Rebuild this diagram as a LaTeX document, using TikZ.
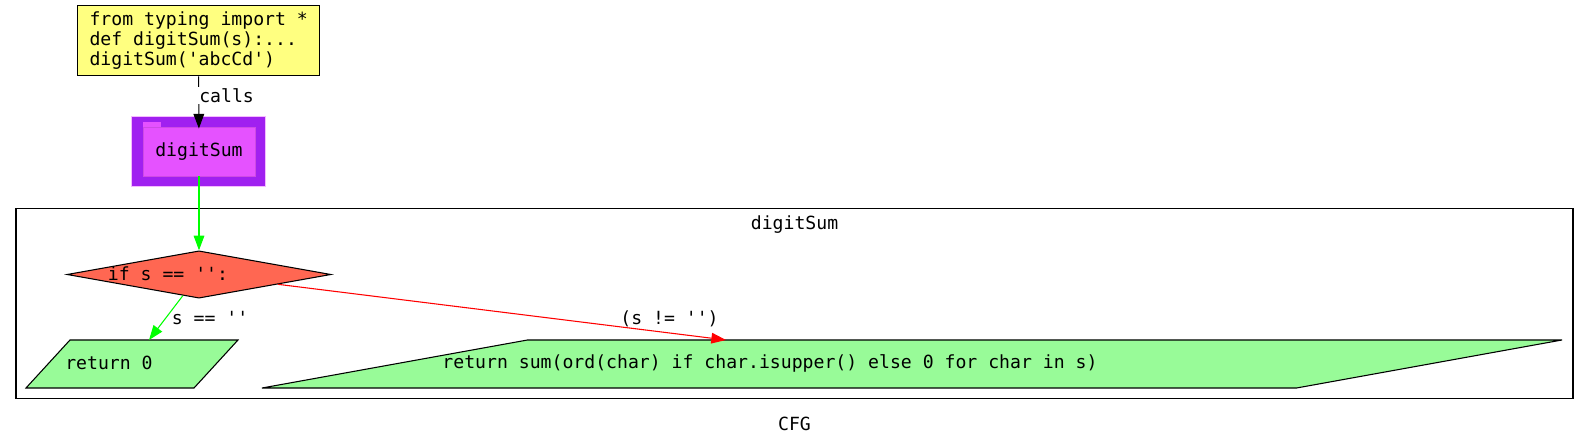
\documentclass[tikz,border=0pt]{standalone}
\usepackage{fontspec}
\setmonofont{DejaVu Sans Mono}
\usepackage{xcolor}
\usetikzlibrary{arrows.meta, positioning, shapes.geometric}
\definecolor{srcyellow}{HTML}{FFFF80}
\definecolor{fnpurple}{HTML}{A020F0}
\definecolor{fnpink}{HTML}{E552FF}
\definecolor{condred}{HTML}{FF6752}
\definecolor{retgreen}{HTML}{98FB98}
\definecolor{linegreen}{HTML}{00FF00}

\begin{document}
\begin{tikzpicture}[
        x=0.75pt, y=-0.75pt,
        font=\ttfamily\fontsize{13.6}{15}\selectfont,
        line width=0.8pt,
        src/.style={draw, fill=srcyellow, minimum width=182pt, minimum height=53pt, inner sep=0pt},
        fnback/.style={draw=fnpink!40, fill=fnpurple, minimum width=101pt, minimum height=53pt, inner sep=0pt},
        fnbox/.style={fill=fnpink, draw=fnpink!90!black, line width=0.4pt, minimum width=84pt, minimum height=37pt, inner sep=0pt},
        fntab/.style={fill=fnpink, minimum width=13pt, minimum height=5pt, inner sep=0pt},
        cluster/.style={draw, minimum width=1167.75pt, minimum height=142pt, inner sep=0pt},
        cond/.style={draw, fill=condred, diamond, aspect=5.62, minimum width=198pt, minimum height=35.5pt, inner sep=0pt},
        ret/.style={draw, fill=retgreen, trapezium, trapezium stretches body, inner sep=1pt},
        txt/.style={inner sep=0pt},
        arr/.style={-{Triangle[length=11pt, width=8pt]}},
        lbl/.style={inner sep=0pt}
      ]
      \useasboundingbox (0,0) rectangle (1589,445);
      \node[cluster] (clust) at (794.5,303.5) {};
      \node[txt] (clustname) at (794.5,225) {digitSum};
      \node[txt] (title) at (794.5,424) {CFG};

      \node[src] (source) at (198.5,40.5) {};
      \node[txt, align=left, anchor=west] (sourcetext) at (89,41) {from typing import *\\def digitSum(s):...\\digitSum('abcCd')};

      \node[fnback] (fnouter) at (198.5,151.5) {};
      \node[fntab] (fntop) at (152,125) {};
      \node[fnbox] (fn) at (199,151.5) {digitSum};

      \node[cond] (if) at (199,274.5) {};
      \node[txt] (iftext) at (168,274) {if s == '':};

      \node[ret, trapezium left angle=47.5, trapezium right angle=132.5, minimum width=159pt] (ret0) at (132,364) {\rule{0pt}{34pt}};
      \node[txt] (ret0text) at (109,363) {return 0};
      \node[ret, trapezium left angle=10.25, trapezium right angle=169.75, minimum width=975pt] (retsum) at (912,364) {\rule{0pt}{34pt}};
      \node[txt] (retsumtext) at (770,363) {return sum(ord(char) if char.isupper() else 0 for char in s)};

      \coordinate (ret0top) at (149,340);
      \coordinate (retsumtop) at (726,340);

      \draw[arr, shorten >=-1.5pt] (source) -- node[lbl, pos=0.38, right, fill=white, inner sep=1pt, xshift=-1pt]{calls} (fn);
      \draw[arr, linegreen] (fn) -- (if);
      \draw[arr, linegreen] (if) -- node[lbl, text=black, pos=0.5, right, xshift=4pt]{s == ''} (ret0top);
      \draw[arr, red] (if) -- node[lbl, text=black, pos=0.874, yshift=10.5pt]{(s != '')} (retsumtop);
    \end{tikzpicture}
\end{document}
